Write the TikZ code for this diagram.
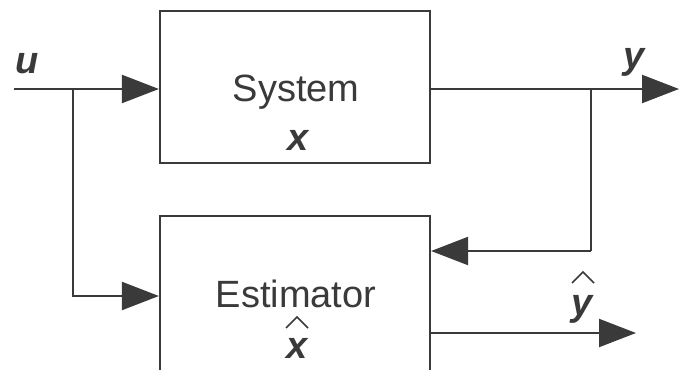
\documentclass[tikz,border=0pt]{standalone}
\usepackage{fontspec}
\setmainfont{Liberation Sans}
\usetikzlibrary{arrows.meta,calc}
\definecolor{ink}{HTML}{3A3A3A}
\begin{document}
\begin{tikzpicture}[x=1pt,y=-1pt,line width=2.2pt,
  block/.style={draw=ink, minimum width=270pt, inner sep=0pt},
  lbl/.style={text=ink, inner sep=0pt, anchor=base, font=\fontsize{38}{40}\selectfont},
  var/.style={text=ink, inner sep=0pt, anchor=base, font=\fontsize{38}{40}\selectfont\bfseries\itshape},
  wire/.style={draw=ink},
  sig/.style={draw=ink, -{Triangle[length=37pt,width=28pt]}},
  hatmark/.style={draw=ink, line width=1.6pt, line join=miter}]
  % page frame
  \useasboundingbox (0,0) rectangle (679,369);
  \fill[white] (0,0) rectangle (679,369);
  \clip (0,0) rectangle (679,369);

  % blocks
  \node[block, minimum height=152pt] (sys) at (295,87) {};
  \node[block, minimum height=160pt] (est) at (295,296) {};

  % block texts
  \node[lbl] (systxt) at (296,101) {System};
  \node[var] (sysx) at (298,150) {x};
  \node[lbl] (esttxt) at (296,307) {Estimator};
  \node[var] (estx) at (297,358) {x};
  \draw[hatmark] ($(estx.base)+(-11,-30)$) -- ++(11,-11) -- ++(11,11);

  % signal labels
  \node[var] (ulbl) at (27,73) {u};
  \node[var] (ylbl) at (634,68) {y};
  \node[var] (yhlbl) at (582,315) {y};
  \draw[hatmark] ($(yhlbl.base)+(-10,-32)$) -- ++(11,-11) -- ++(11,11);

  % connector end points
  \coordinate (uin) at (14,89);
  \coordinate (ub) at (73,89);
  \coordinate (yb) at (591,89);
  \coordinate (yout) at (679,89);
  \coordinate (fb) at (591,251);
  \coordinate (yhout) at (636,333);

  % input
  \draw[sig] (uin) -- (uin -| sys.west);
  \draw[sig] (ub) |- (est.west);
  % output and feedback
  \draw[sig] (sys.east |- yout) -- (yout);
  \draw[wire] (yb) -- (fb);
  \draw[sig] (fb) -- (fb -| est.east);
  % estimate
  \draw[sig] (est.east |- yhout) -- (yhout);
\end{tikzpicture}
\end{document}
